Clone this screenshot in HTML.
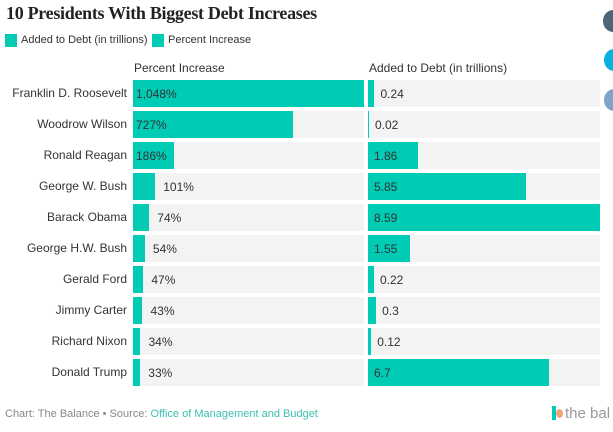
<!DOCTYPE html>
<html><head><meta charset="utf-8"><style>
body{margin:0;width:613px;height:432px;overflow:hidden;background:#fff;font-family:"Liberation Sans",sans-serif;position:relative}
.abs{position:absolute}
h1{position:absolute;left:6px;top:3px;margin:0;font-family:"Liberation Serif",serif;font-size:18px;font-weight:bold;color:#222;letter-spacing:-0.3px}
.t{font-size:12px;color:#333;white-space:nowrap}
</style></head><body>
<h1>10 Presidents With Biggest Debt Increases</h1>
<div class="abs" style="left:5px;top:34px;height:14px">
 <div class="abs" style="left:0;top:0;width:12px;height:13px;background:#00cbb5"></div>
 <div class="abs t" style="left:16px;top:0;font-size:11px">Added to Debt (in trillions)</div>
 <div class="abs" style="left:147px;top:0;width:12px;height:13px;background:#00cbb5"></div>
 <div class="abs t" style="left:163px;top:0;font-size:11px">Percent Increase</div>
</div>
<div class="abs t" style="left:134px;top:61px">Percent Increase</div>
<div class="abs t" style="left:369px;top:61px">Added to Debt (in trillions)</div>
<div class="abs" style="left:603px;top:10px;width:20px;height:22px;border-radius:50%;background:#4d6576"></div>
<div class="abs" style="left:604px;top:49px;width:20px;height:22px;border-radius:50%;background:#0ab0e0"></div>
<div class="abs" style="left:604px;top:89px;width:20px;height:22px;border-radius:50%;background:#7fa4c8"></div>
<div id="chart"></div>
<div class="abs" style="left:5px;top:408px;font-size:11px;color:#888">Chart: The Balance • Source: <span style="color:#3cc0b0">Office of Management and Budget</span></div>
<div class="abs" style="left:552px;top:405px;font-size:15px;color:#999"><span style="display:inline-block;width:4px;height:14px;background:#00cbb5;vertical-align:-2px"></span><span style="display:inline-block;width:7px;height:9px;border-radius:50%;background:#f2a27a;margin-right:2px"></span>the bal</div>
<script>
const presidents=["Franklin D. Roosevelt","Woodrow Wilson","Ronald Reagan","George W. Bush","Barack Obama","George H.W. Bush","Gerald Ford","Jimmy Carter","Richard Nixon","Donald Trump"];
const percentValues=[1048,727,186,101,74,54,47,43,34,33];
const percentLabels=["1,048%","727%","186%","101%","74%","54%","47%","43%","34%","33%"];
const debtValues=[0.24,0.02,1.86,5.85,8.59,1.55,0.22,0.3,0.12,6.7];
const debtLabels=["0.24","0.02","1.86","5.85","8.59","1.55","0.22","0.3","0.12","6.7"];
const C=document.getElementById('chart');
const L0=133,LW=231,R0=368,RW=232,Y0=80,P=31,H=27;
const pMax=Math.max(...percentValues),dMax=Math.max(...debtValues);
const xp=v=>v/pMax*LW, xd=v=>v/dMax*RW, yr=i=>Y0+i*P;
function box(css){const d=document.createElement('div');d.className='abs';d.style.cssText=css;C.appendChild(d);return d;}
presidents.forEach((n,i)=>{
 const y=yr(i);
 let lab=box(`right:${613-127}px;top:${y+6}px;font-size:12px;color:#333;white-space:nowrap`);lab.textContent=n;
 
 
 let bg1=box(`left:${L0}px;top:${y}px;width:${LW}px;height:${H}px;background:#f3f3f3`);
 
 
 let w1=Math.max(xp(percentValues[i]),1);
 let b1=box(`left:${L0}px;top:${y}px;width:${w1}px;height:${H}px;background:#00cbb5`);
 
 
 let t1=box(`left:${w1>38?L0+3:L0+w1+8}px;top:${y+7}px;font-size:12px;color:#333`);t1.textContent=percentLabels[i];
 
 
 let bg2=box(`left:${R0}px;top:${y}px;width:${RW}px;height:${H}px;background:#f3f3f3`);
 
 
 let w2=Math.max(xd(debtValues[i]),1);
 let b2=box(`left:${R0}px;top:${y}px;width:${w2}px;height:${H}px;background:#00cbb5`);
 
 
 let t2=box(`left:${w2>30?R0+6:R0+w2+6}px;top:${y+7}px;font-size:12px;color:#333`);t2.textContent=debtLabels[i];
 
 
});
</script>
</body></html>
